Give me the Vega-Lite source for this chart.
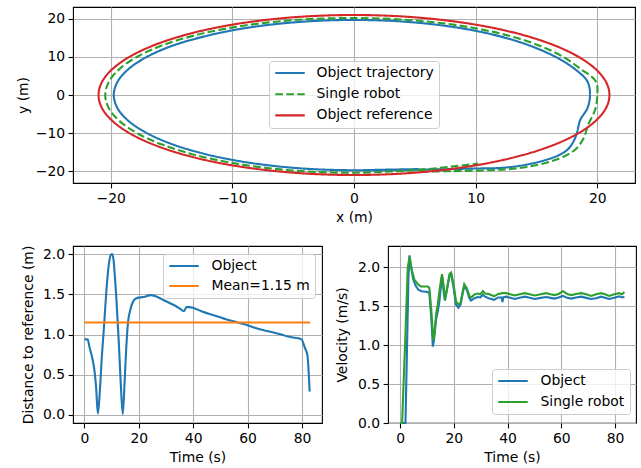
{
  "$schema": "https://vega.github.io/schema/vega-lite/v6.json",
  "background": "white",
  "padding": {"left": 15, "top": 6, "right": 2, "bottom": 2},
  "spacing": 63,
  "bounds": "flush",
  "resolve": {"scale": {"color": "independent", "strokeDash": "independent"}},
  "config": {
    "view": {"stroke": "#000000", "strokeWidth": 1.1},
    "line": {"strokeWidth": 2.1},
    "axis": {
      "domain": false, "grid": true, "gridColor": "#b0b0b0", "gridWidth": 1.1, "gridOpacity": 1,
      "tickColor": "#000000", "tickSize": 4.9, "tickWidth": 1.1,
      "labelFont": "DejaVu Sans", "labelFontSize": 13.9, "labelColor": "#000000", "labelPadding": 3.5,
      "labelFlush": false, "labelOverlap": false, "labelBound": false,
      "titleFont": "DejaVu Sans", "titleFontSize": 13.9, "titleFontWeight": "normal", "titleColor": "#000000", "titlePadding": 5
    },
    "legend": {
      "title": null, "symbolType": "stroke", "symbolSize": 870, "symbolStrokeWidth": 2.1, "clipHeight": 14,
      "labelFont": "DejaVu Sans", "labelFontSize": 13.9, "labelColor": "#000000", "labelLimit": 400,
      "padding": 5, "fillColor": "rgba(255,255,255,0.8)", "strokeColor": "#cccccc", "cornerRadius": 3
    }
  },
  "datasets": {
    "traj": [
      {"s": "Object trajectory", "i": 0, "x": 0.8, "y": -19.8},
      {"s": "Object trajectory", "i": 1, "x": 3, "y": -19.7},
      {"s": "Object trajectory", "i": 2, "x": 5.3, "y": -19.6},
      {"s": "Object trajectory", "i": 3, "x": 8, "y": -19.45},
      {"s": "Object trajectory", "i": 4, "x": 10, "y": -19.3},
      {"s": "Object trajectory", "i": 5, "x": 12, "y": -19.15},
      {"s": "Object trajectory", "i": 6, "x": 13.6, "y": -18.6},
      {"s": "Object trajectory", "i": 7, "x": 15.5, "y": -17.3},
      {"s": "Object trajectory", "i": 8, "x": 16.9, "y": -15.7},
      {"s": "Object trajectory", "i": 9, "x": 17.6, "y": -14.2},
      {"s": "Object trajectory", "i": 10, "x": 18.06, "y": -12.1},
      {"s": "Object trajectory", "i": 11, "x": 18.33, "y": -9.9},
      {"s": "Object trajectory", "i": 12, "x": 18.45, "y": -8.2},
      {"s": "Object trajectory", "i": 13, "x": 18.6, "y": -6.5},
      {"s": "Object trajectory", "i": 14, "x": 18.9, "y": -5.0},
      {"s": "Object trajectory", "i": 15, "x": 19.2, "y": -3.4},
      {"s": "Object trajectory", "i": 16, "x": 19.4, "y": 0},
      {"s": "Object trajectory", "i": 17, "x": 19.2, "y": 3.5},
      {"s": "Object trajectory", "i": 18, "x": 18.23, "y": 6.63},
      {"s": "Object trajectory", "i": 19, "x": 16.76, "y": 9.68},
      {"s": "Object trajectory", "i": 20, "x": 14.86, "y": 12.47},
      {"s": "Object trajectory", "i": 21, "x": 12.53, "y": 14.94},
      {"s": "Object trajectory", "i": 22, "x": 9.8, "y": 16.97},
      {"s": "Object trajectory", "i": 23, "x": 6.72, "y": 18.47},
      {"s": "Object trajectory", "i": 24, "x": 3.42, "y": 19.4},
      {"s": "Object trajectory", "i": 25, "x": 0, "y": 19.7},
      {"s": "Object trajectory", "i": 26, "x": -3.42, "y": 19.4},
      {"s": "Object trajectory", "i": 27, "x": -6.74, "y": 18.51},
      {"s": "Object trajectory", "i": 28, "x": -9.85, "y": 17.06},
      {"s": "Object trajectory", "i": 29, "x": -12.66, "y": 15.09},
      {"s": "Object trajectory", "i": 30, "x": -15.13, "y": 12.7},
      {"s": "Object trajectory", "i": 31, "x": -17.1, "y": 9.88},
      {"s": "Object trajectory", "i": 32, "x": -18.56, "y": 6.75},
      {"s": "Object trajectory", "i": 33, "x": -19.45, "y": 3.43},
      {"s": "Object trajectory", "i": 34, "x": -19.75, "y": 0},
      {"s": "Object trajectory", "i": 35, "x": -19.45, "y": -3.43},
      {"s": "Object trajectory", "i": 36, "x": -18.56, "y": -6.75},
      {"s": "Object trajectory", "i": 37, "x": -17.1, "y": -9.88},
      {"s": "Object trajectory", "i": 38, "x": -15.13, "y": -12.7},
      {"s": "Object trajectory", "i": 39, "x": -12.7, "y": -15.13},
      {"s": "Object trajectory", "i": 40, "x": -9.88, "y": -17.1},
      {"s": "Object trajectory", "i": 41, "x": -6.75, "y": -18.56},
      {"s": "Object trajectory", "i": 42, "x": -3.43, "y": -19.45},
      {"s": "Object trajectory", "i": 43, "x": 0, "y": -19.75},
      {"s": "Object trajectory", "i": 44, "x": 2.6, "y": -19.6},
      {"s": "Object trajectory", "i": 45, "x": 5.3, "y": -19.45},
      {"s": "Single robot", "i": 0, "x": 5.5, "y": -20.1},
      {"s": "Single robot", "i": 1, "x": 8, "y": -20.0},
      {"s": "Single robot", "i": 2, "x": 10.5, "y": -19.8},
      {"s": "Single robot", "i": 3, "x": 12.55, "y": -19.5},
      {"s": "Single robot", "i": 4, "x": 14.2, "y": -18.9},
      {"s": "Single robot", "i": 5, "x": 16.2, "y": -17.4},
      {"s": "Single robot", "i": 6, "x": 17.6, "y": -15.6},
      {"s": "Single robot", "i": 7, "x": 18.33, "y": -13.9},
      {"s": "Single robot", "i": 8, "x": 18.82, "y": -11.7},
      {"s": "Single robot", "i": 9, "x": 19.04, "y": -10},
      {"s": "Single robot", "i": 10, "x": 19.25, "y": -7.8},
      {"s": "Single robot", "i": 11, "x": 19.65, "y": -5.2},
      {"s": "Single robot", "i": 12, "x": 19.86, "y": -3.5},
      {"s": "Single robot", "i": 13, "x": 20.0, "y": 0},
      {"s": "Single robot", "i": 14, "x": 19.9, "y": 3.5},
      {"s": "Single robot", "i": 15, "x": 18.65, "y": 6.79},
      {"s": "Single robot", "i": 16, "x": 17.23, "y": 9.95},
      {"s": "Single robot", "i": 17, "x": 15.32, "y": 12.86},
      {"s": "Single robot", "i": 18, "x": 12.92, "y": 15.4},
      {"s": "Single robot", "i": 19, "x": 10.08, "y": 17.45},
      {"s": "Single robot", "i": 20, "x": 6.91, "y": 18.98},
      {"s": "Single robot", "i": 21, "x": 3.51, "y": 19.89},
      {"s": "Single robot", "i": 22, "x": 0, "y": 20.2},
      {"s": "Single robot", "i": 23, "x": -3.52, "y": 19.94},
      {"s": "Single robot", "i": 24, "x": -6.94, "y": 19.08},
      {"s": "Single robot", "i": 25, "x": -10.18, "y": 17.62},
      {"s": "Single robot", "i": 26, "x": -13.11, "y": 15.63},
      {"s": "Single robot", "i": 27, "x": -15.66, "y": 13.15},
      {"s": "Single robot", "i": 28, "x": -17.71, "y": 10.23},
      {"s": "Single robot", "i": 29, "x": -19.22, "y": 6.99},
      {"s": "Single robot", "i": 30, "x": -20.14, "y": 3.55},
      {"s": "Single robot", "i": 31, "x": -20.45, "y": 0},
      {"s": "Single robot", "i": 32, "x": -20.14, "y": -3.55},
      {"s": "Single robot", "i": 33, "x": -19.22, "y": -6.99},
      {"s": "Single robot", "i": 34, "x": -17.71, "y": -10.23},
      {"s": "Single robot", "i": 35, "x": -15.66, "y": -13.15},
      {"s": "Single robot", "i": 36, "x": -13.15, "y": -15.66},
      {"s": "Single robot", "i": 37, "x": -10.23, "y": -17.71},
      {"s": "Single robot", "i": 38, "x": -6.99, "y": -19.22},
      {"s": "Single robot", "i": 39, "x": -3.55, "y": -20.14},
      {"s": "Single robot", "i": 40, "x": 0, "y": -20.4},
      {"s": "Single robot", "i": 41, "x": 3, "y": -20.1},
      {"s": "Single robot", "i": 42, "x": 5.5, "y": -19.6},
      {"s": "Single robot", "i": 43, "x": 8, "y": -18.8},
      {"s": "Single robot", "i": 44, "x": 10.2, "y": -18.0}
    ],
    "ref": [
      {"s": "Object reference", "i": 0, "x": 21, "y": 0},
      {"s": "Object reference", "i": 1, "x": 20.68, "y": 3.65},
      {"s": "Object reference", "i": 2, "x": 19.73, "y": 7.18},
      {"s": "Object reference", "i": 3, "x": 18.19, "y": 10.5},
      {"s": "Object reference", "i": 4, "x": 16.09, "y": 13.5},
      {"s": "Object reference", "i": 5, "x": 13.5, "y": 16.09},
      {"s": "Object reference", "i": 6, "x": 10.5, "y": 18.19},
      {"s": "Object reference", "i": 7, "x": 7.18, "y": 19.73},
      {"s": "Object reference", "i": 8, "x": 3.65, "y": 20.68},
      {"s": "Object reference", "i": 9, "x": 0, "y": 21},
      {"s": "Object reference", "i": 10, "x": -3.65, "y": 20.68},
      {"s": "Object reference", "i": 11, "x": -7.18, "y": 19.73},
      {"s": "Object reference", "i": 12, "x": -10.5, "y": 18.19},
      {"s": "Object reference", "i": 13, "x": -13.5, "y": 16.09},
      {"s": "Object reference", "i": 14, "x": -16.09, "y": 13.5},
      {"s": "Object reference", "i": 15, "x": -18.19, "y": 10.5},
      {"s": "Object reference", "i": 16, "x": -19.73, "y": 7.18},
      {"s": "Object reference", "i": 17, "x": -20.68, "y": 3.65},
      {"s": "Object reference", "i": 18, "x": -21, "y": 0},
      {"s": "Object reference", "i": 19, "x": -20.68, "y": -3.65},
      {"s": "Object reference", "i": 20, "x": -19.73, "y": -7.18},
      {"s": "Object reference", "i": 21, "x": -18.19, "y": -10.5},
      {"s": "Object reference", "i": 22, "x": -16.09, "y": -13.5},
      {"s": "Object reference", "i": 23, "x": -13.5, "y": -16.09},
      {"s": "Object reference", "i": 24, "x": -10.5, "y": -18.19},
      {"s": "Object reference", "i": 25, "x": -7.18, "y": -19.73},
      {"s": "Object reference", "i": 26, "x": -3.65, "y": -20.68},
      {"s": "Object reference", "i": 27, "x": 0, "y": -21},
      {"s": "Object reference", "i": 28, "x": 3.65, "y": -20.68},
      {"s": "Object reference", "i": 29, "x": 7.18, "y": -19.73},
      {"s": "Object reference", "i": 30, "x": 10.5, "y": -18.19},
      {"s": "Object reference", "i": 31, "x": 13.5, "y": -16.09},
      {"s": "Object reference", "i": 32, "x": 16.09, "y": -13.5},
      {"s": "Object reference", "i": 33, "x": 18.19, "y": -10.5},
      {"s": "Object reference", "i": 34, "x": 19.73, "y": -7.18},
      {"s": "Object reference", "i": 35, "x": 20.68, "y": -3.65}
    ],
    "dist": [
      {"s": "Object", "t": 0, "d": 0.94},
      {"s": "Object", "t": 1.2, "d": 0.94},
      {"s": "Object", "t": 1.85, "d": 0.845},
      {"s": "Object", "t": 2.8, "d": 0.72},
      {"s": "Object", "t": 3.7, "d": 0.55},
      {"s": "Object", "t": 4.3, "d": 0.34},
      {"s": "Object", "t": 4.95, "d": 0.015},
      {"s": "Object", "t": 5.6, "d": 0.26},
      {"s": "Object", "t": 6.4, "d": 0.72},
      {"s": "Object", "t": 7.2, "d": 1.1},
      {"s": "Object", "t": 8.0, "d": 1.51},
      {"s": "Object", "t": 8.9, "d": 1.85},
      {"s": "Object", "t": 9.7, "d": 1.99},
      {"s": "Object", "t": 10.2, "d": 2.0},
      {"s": "Object", "t": 10.7, "d": 1.93},
      {"s": "Object", "t": 11.2, "d": 1.72},
      {"s": "Object", "t": 11.7, "d": 1.47},
      {"s": "Object", "t": 12.6, "d": 0.93},
      {"s": "Object", "t": 13.3, "d": 0.43},
      {"s": "Object", "t": 14.1, "d": 0.01},
      {"s": "Object", "t": 14.8, "d": 0.43},
      {"s": "Object", "t": 15.4, "d": 0.845},
      {"s": "Object", "t": 16.0, "d": 1.14},
      {"s": "Object", "t": 16.9, "d": 1.31},
      {"s": "Object", "t": 17.9, "d": 1.41},
      {"s": "Object", "t": 19.1, "d": 1.45},
      {"s": "Object", "t": 20.4, "d": 1.46},
      {"s": "Object", "t": 22.2, "d": 1.47},
      {"s": "Object", "t": 24.3, "d": 1.49},
      {"s": "Object", "t": 25.9, "d": 1.48},
      {"s": "Object", "t": 27.8, "d": 1.45},
      {"s": "Object", "t": 30.2, "d": 1.41},
      {"s": "Object", "t": 32.7, "d": 1.37},
      {"s": "Object", "t": 35.2, "d": 1.32},
      {"s": "Object", "t": 36.6, "d": 1.29},
      {"s": "Object", "t": 37.5, "d": 1.34},
      {"s": "Object", "t": 38.5, "d": 1.34},
      {"s": "Object", "t": 40.1, "d": 1.33},
      {"s": "Object", "t": 43, "d": 1.29},
      {"s": "Object", "t": 46, "d": 1.255},
      {"s": "Object", "t": 49, "d": 1.225},
      {"s": "Object", "t": 52, "d": 1.19},
      {"s": "Object", "t": 55.2, "d": 1.16},
      {"s": "Object", "t": 58, "d": 1.135},
      {"s": "Object", "t": 60, "d": 1.115},
      {"s": "Object", "t": 62.6, "d": 1.083},
      {"s": "Object", "t": 66.3, "d": 1.05},
      {"s": "Object", "t": 69.5, "d": 1.025},
      {"s": "Object", "t": 72.4, "d": 1.0},
      {"s": "Object", "t": 74.8, "d": 0.975},
      {"s": "Object", "t": 77.3, "d": 0.96},
      {"s": "Object", "t": 79.8, "d": 0.94},
      {"s": "Object", "t": 81, "d": 0.84},
      {"s": "Object", "t": 82, "d": 0.74},
      {"s": "Object", "t": 82.8, "d": 0.29},
      {"s": "Mean=1.15 m", "t": 0, "d": 1.15},
      {"s": "Mean=1.15 m", "t": 83, "d": 1.15}
    ],
    "vel": [
      {"s": "Object", "t": 0, "v": 0},
      {"s": "Object", "t": 2.0, "v": 0},
      {"s": "Object", "t": 2.6, "v": 1.0},
      {"s": "Object", "t": 3.1, "v": 1.85},
      {"s": "Object", "t": 3.5, "v": 2.15},
      {"s": "Object", "t": 4.1, "v": 2.0},
      {"s": "Object", "t": 4.9, "v": 1.84},
      {"s": "Object", "t": 5.8, "v": 1.76},
      {"s": "Object", "t": 6.8, "v": 1.71},
      {"s": "Object", "t": 8.0, "v": 1.69},
      {"s": "Object", "t": 10.3, "v": 1.68},
      {"s": "Object", "t": 10.9, "v": 1.66},
      {"s": "Object", "t": 11.6, "v": 1.35},
      {"s": "Object", "t": 12.2, "v": 0.98},
      {"s": "Object", "t": 12.6, "v": 1.06},
      {"s": "Object", "t": 13.4, "v": 1.33},
      {"s": "Object", "t": 14.0, "v": 1.43},
      {"s": "Object", "t": 14.6, "v": 1.55},
      {"s": "Object", "t": 15.6, "v": 1.89},
      {"s": "Object", "t": 16.3, "v": 1.66},
      {"s": "Object", "t": 16.7, "v": 1.57},
      {"s": "Object", "t": 17.5, "v": 1.72},
      {"s": "Object", "t": 18.4, "v": 1.89},
      {"s": "Object", "t": 19.0, "v": 1.91},
      {"s": "Object", "t": 19.9, "v": 1.74},
      {"s": "Object", "t": 20.8, "v": 1.52},
      {"s": "Object", "t": 21.7, "v": 1.48},
      {"s": "Object", "t": 22.5, "v": 1.52},
      {"s": "Object", "t": 23.3, "v": 1.66},
      {"s": "Object", "t": 23.9, "v": 1.76},
      {"s": "Object", "t": 24.8, "v": 1.71},
      {"s": "Object", "t": 25.8, "v": 1.6},
      {"s": "Object", "t": 26.4, "v": 1.57},
      {"s": "Object", "t": 27.7, "v": 1.6},
      {"s": "Object", "t": 28.9, "v": 1.615},
      {"s": "Object", "t": 29.9, "v": 1.61},
      {"s": "Object", "t": 30.8, "v": 1.645},
      {"s": "Object", "t": 31.6, "v": 1.62},
      {"s": "Object", "t": 33, "v": 1.6},
      {"s": "Object", "t": 35, "v": 1.58},
      {"s": "Object", "t": 36.5, "v": 1.61},
      {"s": "Object", "t": 37.8, "v": 1.61},
      {"s": "Object", "t": 38.1, "v": 1.55},
      {"s": "Object", "t": 38.4, "v": 1.61},
      {"s": "Object", "t": 39.5, "v": 1.62},
      {"s": "Object", "t": 41, "v": 1.605},
      {"s": "Object", "t": 42.7, "v": 1.59},
      {"s": "Object", "t": 44.5, "v": 1.605},
      {"s": "Object", "t": 46.4, "v": 1.62},
      {"s": "Object", "t": 48.2, "v": 1.605},
      {"s": "Object", "t": 50.1, "v": 1.59},
      {"s": "Object", "t": 52.3, "v": 1.605},
      {"s": "Object", "t": 54.4, "v": 1.615},
      {"s": "Object", "t": 56, "v": 1.605},
      {"s": "Object", "t": 57.5, "v": 1.595},
      {"s": "Object", "t": 59, "v": 1.61},
      {"s": "Object", "t": 60.6, "v": 1.63},
      {"s": "Object", "t": 62.2, "v": 1.605},
      {"s": "Object", "t": 63.7, "v": 1.595},
      {"s": "Object", "t": 65.5, "v": 1.61},
      {"s": "Object", "t": 67.4, "v": 1.62},
      {"s": "Object", "t": 69.3, "v": 1.605},
      {"s": "Object", "t": 71.1, "v": 1.59},
      {"s": "Object", "t": 73, "v": 1.6},
      {"s": "Object", "t": 74.8, "v": 1.62},
      {"s": "Object", "t": 76.3, "v": 1.605},
      {"s": "Object", "t": 77.8, "v": 1.59},
      {"s": "Object", "t": 79.7, "v": 1.605},
      {"s": "Object", "t": 81.6, "v": 1.625},
      {"s": "Object", "t": 82.6, "v": 1.61},
      {"s": "Object", "t": 83.5, "v": 1.62},
      {"s": "Single robot", "t": 0, "v": 0},
      {"s": "Single robot", "t": 0.75, "v": 0},
      {"s": "Single robot", "t": 1.9, "v": 1.05},
      {"s": "Single robot", "t": 2.85, "v": 1.99},
      {"s": "Single robot", "t": 3.5, "v": 2.13},
      {"s": "Single robot", "t": 4.3, "v": 1.97},
      {"s": "Single robot", "t": 5.3, "v": 1.84},
      {"s": "Single robot", "t": 6.6, "v": 1.78},
      {"s": "Single robot", "t": 7.8, "v": 1.75},
      {"s": "Single robot", "t": 10.3, "v": 1.75},
      {"s": "Single robot", "t": 10.9, "v": 1.73},
      {"s": "Single robot", "t": 11.6, "v": 1.45},
      {"s": "Single robot", "t": 12.2, "v": 1.13},
      {"s": "Single robot", "t": 12.5, "v": 1.06},
      {"s": "Single robot", "t": 13.4, "v": 1.39},
      {"s": "Single robot", "t": 14.0, "v": 1.52},
      {"s": "Single robot", "t": 15.0, "v": 1.78},
      {"s": "Single robot", "t": 15.6, "v": 1.91},
      {"s": "Single robot", "t": 16.3, "v": 1.73},
      {"s": "Single robot", "t": 16.7, "v": 1.58},
      {"s": "Single robot", "t": 17.5, "v": 1.73},
      {"s": "Single robot", "t": 18.4, "v": 1.91},
      {"s": "Single robot", "t": 19.0, "v": 1.93},
      {"s": "Single robot", "t": 19.9, "v": 1.78},
      {"s": "Single robot", "t": 20.8, "v": 1.56},
      {"s": "Single robot", "t": 21.7, "v": 1.52},
      {"s": "Single robot", "t": 22.5, "v": 1.54},
      {"s": "Single robot", "t": 23.3, "v": 1.69},
      {"s": "Single robot", "t": 23.9, "v": 1.78},
      {"s": "Single robot", "t": 24.8, "v": 1.73},
      {"s": "Single robot", "t": 25.8, "v": 1.63},
      {"s": "Single robot", "t": 26.4, "v": 1.61},
      {"s": "Single robot", "t": 27.7, "v": 1.65},
      {"s": "Single robot", "t": 28.9, "v": 1.66},
      {"s": "Single robot", "t": 29.9, "v": 1.65},
      {"s": "Single robot", "t": 30.8, "v": 1.69},
      {"s": "Single robot", "t": 31.6, "v": 1.66},
      {"s": "Single robot", "t": 33, "v": 1.655},
      {"s": "Single robot", "t": 35, "v": 1.625},
      {"s": "Single robot", "t": 36.5, "v": 1.655},
      {"s": "Single robot", "t": 38.1, "v": 1.665},
      {"s": "Single robot", "t": 39.5, "v": 1.665},
      {"s": "Single robot", "t": 41, "v": 1.65},
      {"s": "Single robot", "t": 42.7, "v": 1.635},
      {"s": "Single robot", "t": 44.5, "v": 1.65},
      {"s": "Single robot", "t": 46.4, "v": 1.665},
      {"s": "Single robot", "t": 48.2, "v": 1.65},
      {"s": "Single robot", "t": 50.1, "v": 1.635},
      {"s": "Single robot", "t": 52.3, "v": 1.65},
      {"s": "Single robot", "t": 54.4, "v": 1.665},
      {"s": "Single robot", "t": 56, "v": 1.65},
      {"s": "Single robot", "t": 57.5, "v": 1.64},
      {"s": "Single robot", "t": 59, "v": 1.655},
      {"s": "Single robot", "t": 60.6, "v": 1.69},
      {"s": "Single robot", "t": 62.2, "v": 1.655},
      {"s": "Single robot", "t": 63.7, "v": 1.64},
      {"s": "Single robot", "t": 65.5, "v": 1.655},
      {"s": "Single robot", "t": 67.4, "v": 1.665},
      {"s": "Single robot", "t": 69.3, "v": 1.65},
      {"s": "Single robot", "t": 71.1, "v": 1.63},
      {"s": "Single robot", "t": 73, "v": 1.65},
      {"s": "Single robot", "t": 74.8, "v": 1.665},
      {"s": "Single robot", "t": 76.3, "v": 1.65},
      {"s": "Single robot", "t": 77.8, "v": 1.63},
      {"s": "Single robot", "t": 79.7, "v": 1.65},
      {"s": "Single robot", "t": 81.6, "v": 1.665},
      {"s": "Single robot", "t": 82.6, "v": 1.65},
      {"s": "Single robot", "t": 83.5, "v": 1.68}
    ]
  },
  "vconcat": [
    {
      "width": 562,
      "height": 176,
      "encoding": {
        "x": {"field": "x", "type": "quantitative", "scale": {"domain": [-23.1, 23.1], "nice": false, "zero": false}, "axis": {"values": [-20, -10, 0, 10, 20], "format": "d", "title": "x (m)"}},
        "y": {"field": "y", "type": "quantitative", "scale": {"domain": [-23.1, 23.1], "nice": false, "zero": false}, "axis": {"values": [-20, -10, 0, 10, 20], "format": "d", "title": "y (m)"}},
        "order": {"field": "i", "type": "quantitative"},
        "color": {"field": "s", "type": "nominal", "scale": {"domain": ["Object trajectory", "Single robot", "Object reference"], "range": ["#1f77b4", "#2ca02c", "#d62728"]}, "legend": {"orient": "none", "legendX": 196, "legendY": 54, "labelOffset": 10.5, "rowPadding": 7.2}},
        "strokeDash": {"field": "s", "type": "nominal", "scale": {"domain": ["Object trajectory", "Single robot", "Object reference"], "range": [[1, 0], [7.7, 3.3], [1, 0]]}, "legend": {"orient": "none", "legendX": 196, "legendY": 54, "labelOffset": 10.5, "rowPadding": 7.2}}
      },
      "layer": [
        {"data": {"name": "traj"}, "mark": {"type": "line", "interpolate": "catmull-rom"}},
        {"data": {"name": "ref"}, "mark": {"type": "line", "interpolate": "cardinal-closed"}}
      ]
    },
    {
      "spacing": 66,
      "bounds": "flush",
      "resolve": {"scale": {"color": "independent"}},
      "hconcat": [
        {
          "width": 249,
          "height": 177,
          "data": {"name": "dist"},
          "mark": {"type": "line", "interpolate": "monotone"},
          "encoding": {
            "x": {"field": "t", "type": "quantitative", "scale": {"domain": [-4.2, 87.35], "nice": false, "zero": false}, "axis": {"values": [0, 20, 40, 60, 80], "format": "d", "title": "Time (s)"}},
            "y": {"field": "d", "type": "quantitative", "scale": {"domain": [-0.1, 2.1], "nice": false, "zero": false}, "axis": {"values": [0, 0.5, 1, 1.5, 2], "format": ".1f", "title": "Distance to reference (m)", "titlePadding": 7.5}},
            "color": {"field": "s", "type": "nominal", "scale": {"domain": ["Object", "Mean=1.15 m"], "range": ["#1f77b4", "#ff7f0e"]}, "legend": {"orient": "none", "legendX": 90, "legendY": 8, "labelOffset": 11.5, "rowPadding": 6}}
          }
        },
        {
          "width": 248,
          "height": 177,
          "data": {"name": "vel"},
          "mark": {"type": "line"},
          "encoding": {
            "x": {"field": "t", "type": "quantitative", "scale": {"domain": [-4.5, 87.8], "nice": false, "zero": false}, "axis": {"values": [0, 20, 40, 60, 80], "format": "d", "title": "Time (s)"}},
            "y": {"field": "v", "type": "quantitative", "scale": {"domain": [0, 2.27], "nice": false, "zero": false}, "axis": {"values": [0, 0.5, 1, 1.5, 2], "format": ".1f", "title": "Velocity (m/s)", "titlePadding": 8.5}},
            "color": {"field": "s", "type": "nominal", "scale": {"domain": ["Object", "Single robot"], "range": ["#1f77b4", "#2ca02c"]}, "legend": {"orient": "none", "legendX": 104, "legendY": 123, "labelOffset": 11.5, "rowPadding": 7}}
          }
        }
      ]
    }
  ]
}
